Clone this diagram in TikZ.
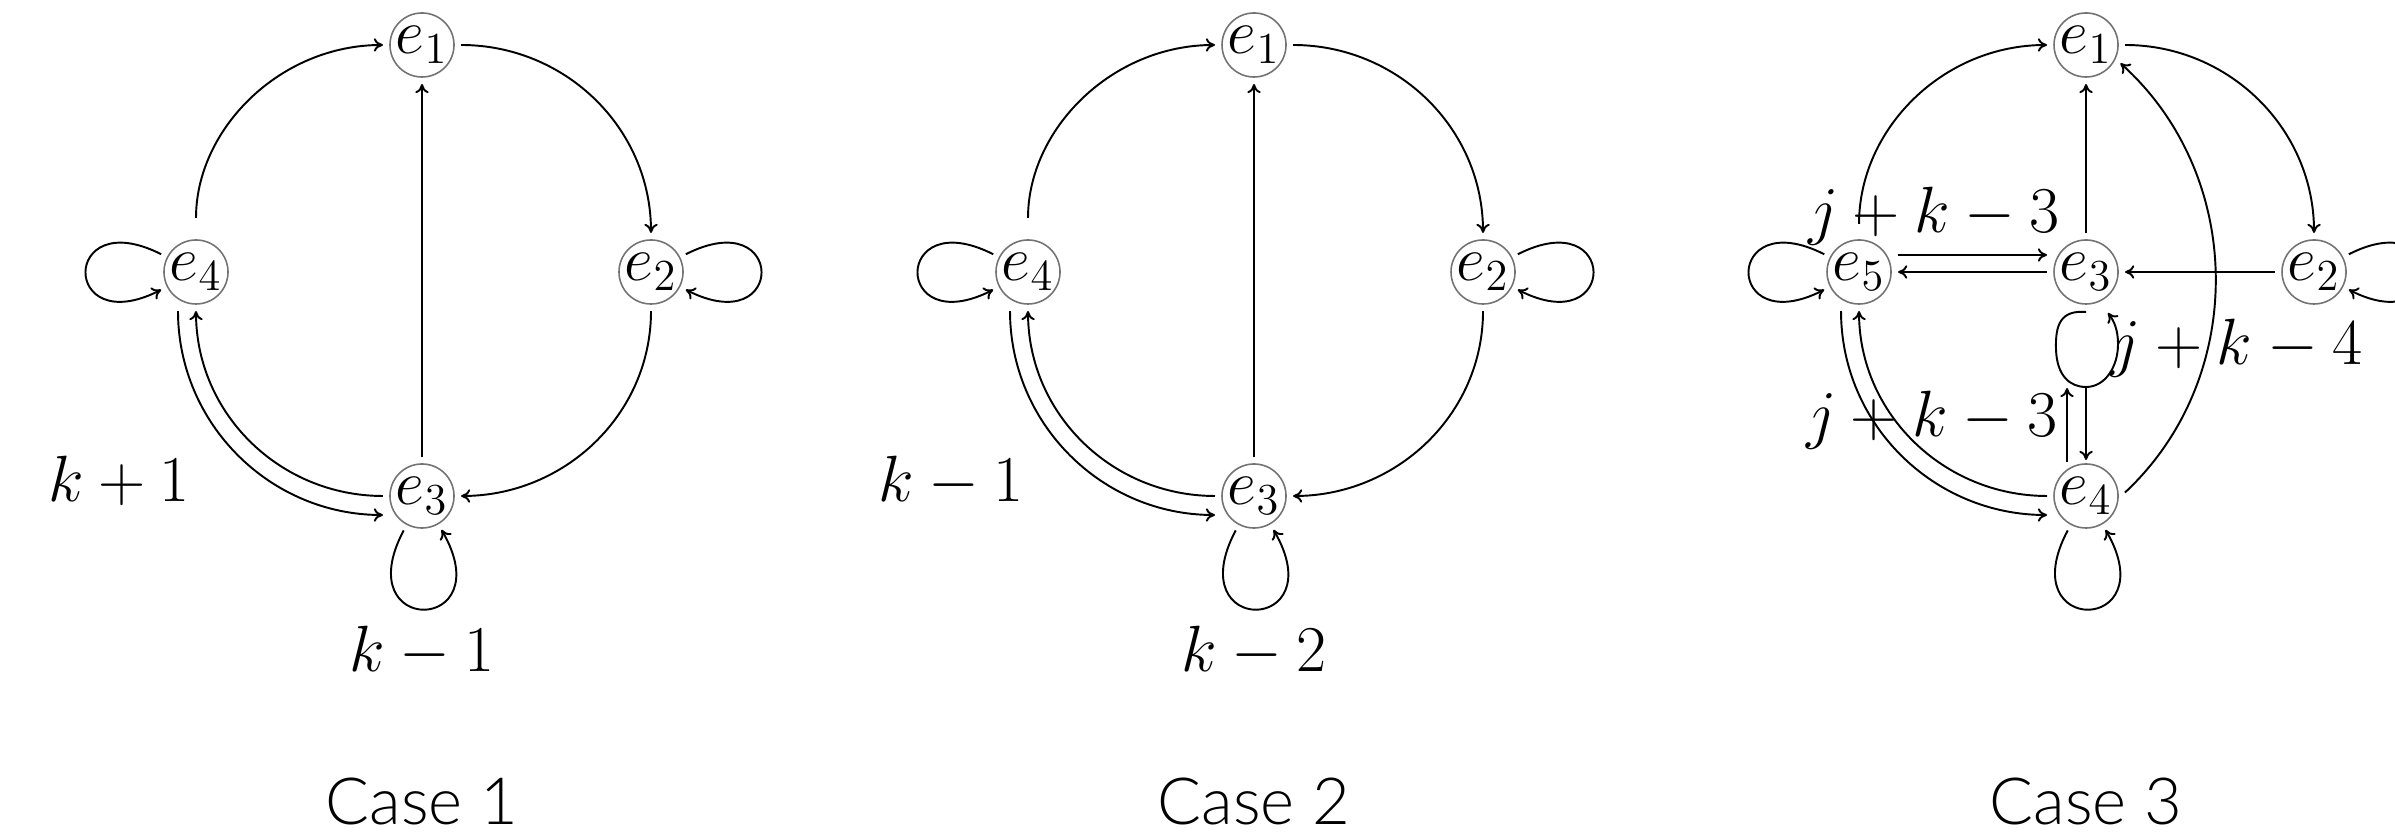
\RequirePackage{fix-cm}
\documentclass[tikz,border=0pt]{standalone}
\usepackage{fontspec}
\newfontfamily\casefont{Lato Light}
\usetikzlibrary{arrows.meta,calc}
\definecolor{circgray}{gray}{0.45}
\begin{document}
\begin{tikzpicture}[x=0.01cm,y=0.01cm,
  vert/.style={circle,draw=circgray,line width=0.45pt,minimum size=0.64cm,inner sep=0pt,outer sep=0.07cm,font=\fontsize{18}{20}\selectfont},
  conn/.style={line width=0.55pt,-{To[length=2.6pt,width=3.8pt]}},
  lbl/.style={anchor=base,inner sep=0pt,font=\fontsize{18.6}{20}\selectfont},
  casetitle/.style={anchor=base,inner sep=0pt,font=\casefont\fontsize{18.5}{22}\selectfont}]
\useasboundingbox (0,0) rectangle (2395,840);

% ---------------- Case 1 ----------------
\node[vert] (a1) at (422,795) {$e_1$};
\node[vert] (a4) at (196,568) {$e_4$};
\node[vert] (a2) at (651,568) {$e_2$};
\node[vert] (a3) at (422,344) {$e_3$};
\draw[conn,shorten <=0.15cm] (a4) to[out=90,in=180] (a1);
\draw[conn] (a1) to[out=0,in=90] (a2);
\draw[conn] (a2) to[out=-90,in=0] (a3);
\draw[conn] (a3) -- (a1);
\draw[conn] (a3) to[out=180,in=-90] (a4);
\draw[conn] ([xshift=-0.18cm]a4.south) to[out=-90,in=180] ([yshift=-0.19cm]a3.west);
\draw[conn] (a4) to[out=153,in=207,min distance=1.13cm] (a4);
\draw[conn] (a2) to[out=27,in=-27,min distance=1.13cm] (a2);
\draw[conn] (a3) to[out=-118,in=-60,min distance=1.21cm] (a3);
\node[lbl] (la1) at (119,338.3) {$k+1$};
\node[lbl] (la2) at (422,168.3) {$k-1$};
\node[casetitle] (ta) at (422,15) {Case 1};

% ---------------- Case 2 ----------------
\node[vert] (b1) at (1254,795) {$e_1$};
\node[vert] (b4) at (1028,568) {$e_4$};
\node[vert] (b2) at (1483,568) {$e_2$};
\node[vert] (b3) at (1254,344) {$e_3$};
\draw[conn,shorten <=0.15cm] (b4) to[out=90,in=180] (b1);
\draw[conn] (b1) to[out=0,in=90] (b2);
\draw[conn] (b2) to[out=-90,in=0] (b3);
\draw[conn] (b3) -- (b1);
\draw[conn] (b3) to[out=180,in=-90] (b4);
\draw[conn] ([xshift=-0.18cm]b4.south) to[out=-90,in=180] ([yshift=-0.19cm]b3.west);
\draw[conn] (b4) to[out=153,in=207,min distance=1.13cm] (b4);
\draw[conn] (b2) to[out=27,in=-27,min distance=1.13cm] (b2);
\draw[conn] (b3) to[out=-118,in=-60,min distance=1.21cm] (b3);
\node[lbl] (lb1) at (951,338.3) {$k-1$};
\node[lbl] (lb2) at (1254,168.3) {$k-2$};
\node[casetitle] (tb) at (1254,15) {Case 2};

% ---------------- Case 3 ----------------
\node[vert] (c1) at (2086,795) {$e_1$};
\node[vert] (c5) at (1859,568) {$e_5$};
\node[vert] (c3) at (2086,568) {$e_3$};
\node[vert] (c2) at (2314,568) {$e_2$};
\node[vert] (c4) at (2086,344) {$e_4$};
\draw[conn,shorten <=0.09cm] (c5) to[out=90,in=180] (c1);
\draw[conn] (c1) to[out=0,in=90] (c2);
\draw[conn] (c3) -- (c1);
\draw[conn] (c2) -- (c3);
\draw[conn] ([yshift=0.17cm]c5.east) -- ([yshift=0.17cm]c3.west);
\draw[conn] (c3) -- (c5);
\draw[conn] (c4) to[out=180,in=-90] (c5);
\draw[conn] ([xshift=-0.18cm]c5.south) to[out=-90,in=180] ([yshift=-0.19cm]c4.west);
\draw[conn] (c4.5) to[out=43,in=-42] (c1.-28);
\draw[conn] ($(c3)+(0,-40)$) .. controls ($(c3)+(-25,-38)$) and ($(c3)+(-31,-52)$) .. ($(c3)+(-30,-78)$)
  .. controls ($(c3)+(-29,-104)$) and ($(c3)+(-16,-115)$) .. ($(c3)+(0,-115)$)
  .. controls ($(c3)+(19,-115)$) and ($(c3)+(32,-95)$) .. ($(c3)+(32,-72)$)
  .. controls ($(c3)+(32,-58)$) and ($(c3)+(28,-49)$) .. ($(c3)+(22,-41)$);
\draw[conn] ($(c3)+(0,-115)$) -- ($(c4)+(0,36)$);
\draw[conn] ($(c4)+(-19,34)$) -- ($(c3)+(-19,-116)$);
\draw[conn] (c5) to[out=153,in=207,min distance=1.13cm] (c5);
\draw[conn] (c2) to[out=27,in=-27,min distance=1.13cm] (c2);
\draw[conn] (c4) to[out=-118,in=-60,min distance=1.21cm] (c4);
\node[lbl] (lc1) at (1934,607) {$j+k-3$};
\node[lbl] (lc2) at (1932,403.3) {$j+k-3$};
\node[lbl] (lc3) at (2236.5,475) {$j+k-4$};
\node[casetitle] (tc) at (2086,15) {Case 3};
\end{tikzpicture}
\end{document}
